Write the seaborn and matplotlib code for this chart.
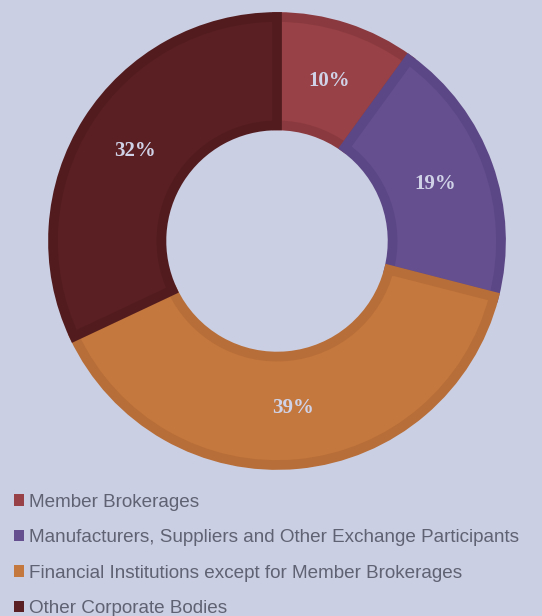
import matplotlib
matplotlib.use("Agg")
import matplotlib.pyplot as plt
import seaborn as sns
from matplotlib.patches import Patch

categories = ["Member Brokerages",
              "Manufacturers, Suppliers and Other Exchange Participants",
              "Financial Institutions except for Member Brokerages",
              "Other Corporate Bodies"]
shares = [10, 19, 39, 32]

fill_colors = ["#984146", "#654F8E", "#C4783E", "#5A1F22"]
edge_colors = ["#8A3A3F", "#5C4786", "#B86E38", "#521C1F"]
bg = "#CBCFE3"

sns.set_theme(style="white")
plt.rcParams["font.family"] = ["Liberation Sans", "DejaVu Sans"]

# donut centre at (277, 241) px, outer radius ~224 px
fig = plt.figure(figsize=(5.42, 6.16), dpi=100, facecolor=bg)
ax = fig.add_axes([(277 - 224) / 542, (616 - 465) / 616, 448 / 542, 448 / 616])
ax.set_facecolor(bg)

wedges, texts, autotexts = ax.pie(
    shares, colors=fill_colors, startangle=90, counterclock=False,
    radius=1, autopct="%.0f%%", pctdistance=0.75,
    wedgeprops=dict(width=0.484, linewidth=7),
    textprops=dict(color="#D0D3E8", fontsize=15, fontweight="bold",
                   family="Liberation Serif"))
for w, ec in zip(wedges, edge_colors):
    w.set_edgecolor(ec)
ax.set_xlim(-1, 1)
ax.set_ylim(-1, 1)
ax.set_aspect("auto")
ax.axis("off")

handles = [Patch(facecolor=c, edgecolor="none") for c in fill_colors]
leg = fig.legend(handles, categories, loc="upper left",
                 bbox_to_anchor=(8 / 542, (616 - 488) / 616), frameon=False,
                 fontsize=13.6, labelcolor="#5F6272", handlelength=0.55,
                 handleheight=0.55, handletextpad=0.25, labelspacing=0.98,
                 borderaxespad=0, borderpad=0.3)

fig.savefig("out.png", dpi=100, facecolor=bg)
